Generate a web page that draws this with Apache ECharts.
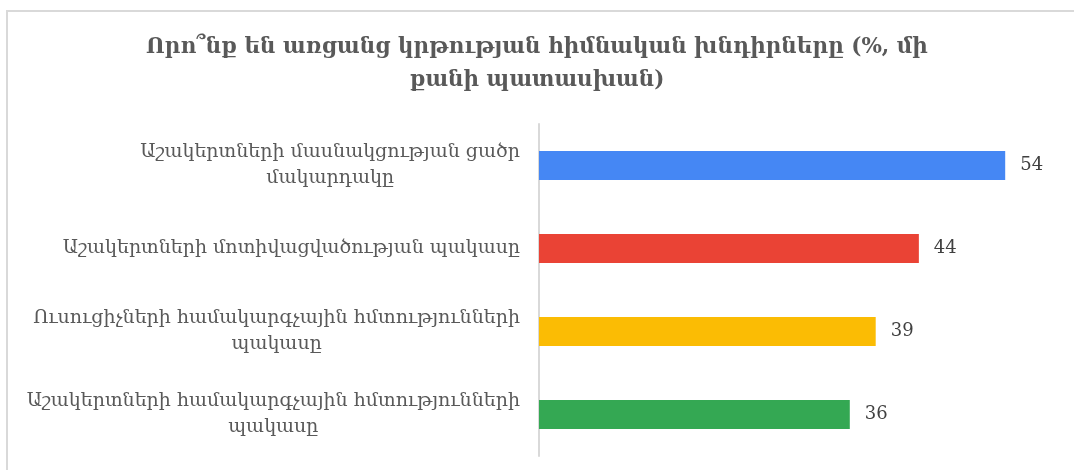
<!DOCTYPE html>
<html>
<head>
<meta charset="utf-8">
<script src="https://cdn.jsdelivr.net/npm/echarts@6/dist/echarts.min.js"></script>
<style>
    html, body { margin: 0; padding: 0; background: #fff; overflow: hidden; }
    .line-top { position: absolute; left: 6px; top: 10px; width: 1068px; height: 2px; background: #d9d9d9; }
    .line-left { position: absolute; left: 6px; top: 10px; width: 2px; height: 460px; background: #d9d9d9; }
    #chart { position: absolute; left: 0; top: 0; width: 1074px; height: 470px; }
</style>
</head>
<body>
<div class="line-top"></div>
<div class="line-left"></div>
<div id="chart"></div>
<script>
var titleText = 'Որո՞նք են առցանց կրթության հիմնական խնդիրները (%, մի\nքանի պատասխան)';
var categories = [
    'Աշակերտների մասնակցության ցածր\nմակարդակը',
    'Աշակերտների մոտիվացվածության պակասը',
    'Ուսուցիչների համակարգչային հմտությունների\nպակասը',
    'Աշակերտների համակարգչային հմտությունների\nպակասը'
];
var values = [54, 44, 39, 36];
var barColors = ['#4587f4', '#ea4335', '#fbbc04', '#34a853'];

(function () {
    var myChart = echarts.init(document.getElementById('chart'));
    var font = "'DejaVu Serif', serif";
    var option = {
        backgroundColor: 'transparent',
        animation: false,
        title: {
            text: titleText,
            left: 'center',
            top: 26,
            textStyle: {
                fontFamily: font,
                fontSize: 21.5,
                fontWeight: 'bold',
                color: '#595959',
                lineHeight: 33
            }
        },
        grid: {
            left: 539,
            top: 124,
            width: 518,
            height: 332
        },
        xAxis: {
            type: 'value',
            min: 0,
            max: 60,
            show: false
        },
        yAxis: {
            type: 'category',
            inverse: true,
            data: categories,
            axisLine: {
                lineStyle: { color: '#d9d9d9', width: 2 }
            },
            axisTick: { show: false },
            axisLabel: {
                margin: 19,
                formatter: function (v) {
                    // each line centred within the right-aligned block
                    return v.split('\n').map(function (s) {
                        return '{c|' + s + '}';
                    }).join('\n');
                },
                rich: {
                    c: {
                        align: 'center',
                        fontFamily: font,
                        fontSize: 19,
                        color: '#595959',
                        lineHeight: 26
                    }
                }
            }
        },
        series: [
            {
                type: 'bar',
                barWidth: 29,
                data: values.map(function (v, i) {
                    return { value: v, itemStyle: { color: barColors[i] } };
                }),
                label: {
                    show: true,
                    position: 'right',
                    distance: 15,
                    fontFamily: font,
                    fontSize: 18,
                    color: '#404040'
                }
            }
        ]
    };
    myChart.setOption(option);
})();
</script>
</body>
</html>
